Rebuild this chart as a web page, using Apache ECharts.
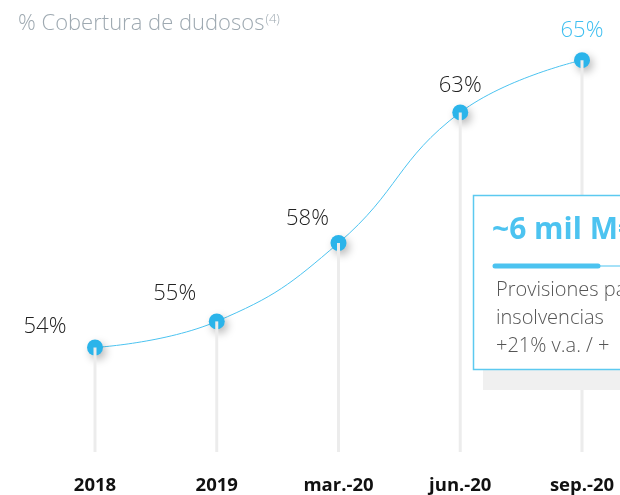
<!DOCTYPE html>
<html>
<head>
<meta charset="utf-8">
<script src="https://cdn.jsdelivr.net/npm/echarts@6/dist/echarts.min.js"></script>
<style>
  html, body { margin: 0; padding: 0; background: #fff; }
  #main { width: 620px; height: 495px; }
</style>
</head>
<body>
<div id="main"></div>
<script>
var periods = ['2018', '2019', 'mar.-20', 'jun.-20', 'sep.-20'];
var coverage = [54, 55, 58, 63, 65];

// where each % label sits relative to its point
var labelOffsets = [[-50, 2], [-42, -5], [-31, -1], [0, -4], [0, -6]];

var blue = '#2bb4ea';
var font = '"Open Sans", "Noto Sans", sans-serif';

var myChart = echarts.init(document.getElementById('main'));

var lineData = coverage.map(function (v, i) {
  var last = i === coverage.length - 1;
  return {
    value: v,
    label: {
      offset: labelOffsets[i],
      color: last ? '#3fbff0' : '#222'
    }
  };
});

myChart.setOption({
  animation: false,
  grid: {
    left: 95,
    right: 38,
    top: 34,
    bottom: 42
  },
  xAxis: {
    type: 'category',
    boundaryGap: false,
    data: periods,
    axisLine: { show: false },
    axisTick: { show: false },
    axisLabel: {
      margin: 24,
      color: '#111',
      fontSize: 18.5,
      fontWeight: 'bold',
      fontFamily: font
    }
  },
  yAxis: {
    type: 'value',
    min: 50,
    max: 66,
    show: false,
    splitLine: { show: false }
  },
  graphic: [
    // shadow block behind the callout
    {
      type: 'rect',
      z: 10,
      shape: { x: 483, y: 205, width: 150, height: 185 },
      style: { fill: '#f0f0f0' }
    },
    {
      type: 'rect',
      z: 11,
      shape: { x: 473.5, y: 195.5, width: 160, height: 174 },
      style: { fill: '#fff', stroke: '#5cc9f0', lineWidth: 1.5 }
    },
    {
      type: 'text',
      z: 12,
      left: 492,
      top: 215,
      style: {
        text: '~6 mil M€',
        fill: '#4cc3f0',
        font: 'bold 30px ' + font
      }
    },
    {
      type: 'line',
      z: 12,
      shape: { x1: 493, y1: 266, x2: 630, y2: 266 },
      style: { stroke: '#4cc3f0', lineWidth: 1 }
    },
    {
      type: 'line',
      z: 12,
      shape: { x1: 495, y1: 266, x2: 598, y2: 266 },
      style: { stroke: '#4cc3f0', lineWidth: 5, lineCap: 'round' }
    },
    {
      type: 'text',
      z: 12,
      left: 496,
      top: 276,
      style: {
        text: 'Provisiones para\ninsolvencias\n+21% v.a. / +',
        fill: '#555',
        font: '300 20px ' + font,
        lineHeight: 28
      }
    },
    {
      type: 'text',
      left: 18,
      top: 13,
      style: {
        text: '{t|% Cobertura de dudosos}{s|(4)}',
        rich: {
          t: { fill: '#9ea9b1', fontSize: 22, fontWeight: 300, fontFamily: font },
          s: { fill: '#9ea9b1', fontSize: 13, fontWeight: 300, fontFamily: font, verticalAlign: 'top', padding: [0, 0, 9, 1] }
        }
      }
    }
  ],
  series: [
    {
      type: 'line',
      z: 2,
      data: lineData,
      smooth: 0.45,
      symbol: 'circle',
      symbolSize: 16,
      lineStyle: { color: '#4cc3f0', width: 1 },
      itemStyle: {
        color: blue,
        shadowBlur: 8,
        shadowColor: 'rgba(0,0,0,0.28)',
        shadowOffsetX: 3,
        shadowOffsetY: 4
      },
      label: {
        show: true,
        position: 'top',
        distance: 4,
        formatter: '{c}%',
        fontSize: 22,
        fontWeight: 300,
        fontFamily: font
      }
    },
    {
      type: 'bar',
      z: 3,
      data: coverage,
      barWidth: 3,
      itemStyle: { color: '#ececec' },
      silent: true
    }
  ]
});
</script>
</body>
</html>
